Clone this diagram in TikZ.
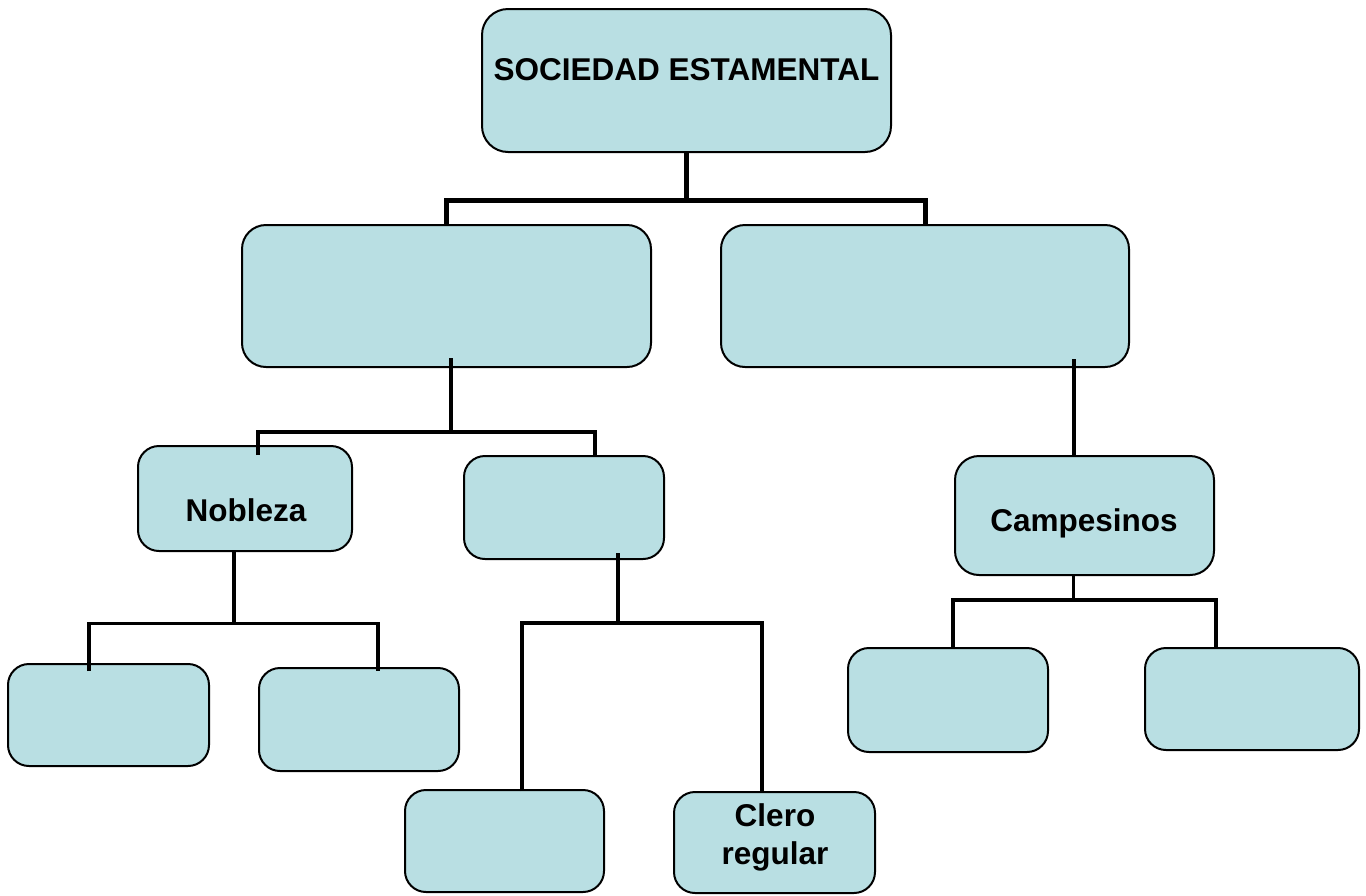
\documentclass[tikz,border=0pt]{standalone}
\usepackage{fontspec}
\setmainfont{Liberation Sans}
\usetikzlibrary{calc}
\definecolor{boxfill}{RGB}{185,223,227}
\begin{document}
\begin{tikzpicture}[x=1pt,y=-1pt,
  box/.style={draw=black, fill=boxfill, line width=2pt, rectangle, inner sep=0pt, rounded corners=#1},
  box/.default=21pt,
  lbl/.style={font=\fontsize{31.5}{38}\selectfont\bfseries, inner sep=0pt, align=center},
  thickc/.style={line width=5pt, line cap=butt, line join=miter},
  thinc/.style={line width=3.4pt, line cap=butt, line join=miter}]
\useasboundingbox (0,0) rectangle (1366,895);
% boxes
\node[box=26pt, minimum width=409pt, minimum height=143pt] (soc) at (686.5,80.5) {};
\node[box=24pt, minimum width=409pt, minimum height=142pt] (L1) at (446.5,296) {};
\node[box=24pt, minimum width=408pt, minimum height=142pt] (R1) at (925,296) {};
\node[box, minimum width=214pt, minimum height=105pt] (nob) at (245,498.5) {};
\node[box, minimum width=200pt, minimum height=103pt] (cle) at (564,507.5) {};
\node[box=24pt, minimum width=259pt, minimum height=119pt] (cam) at (1084.5,515.5) {};
\node[box, minimum width=201pt, minimum height=102pt] (n1) at (108.5,715) {};
\node[box, minimum width=200pt, minimum height=103pt] (n2) at (359,719.5) {};
\node[box, minimum width=199pt, minimum height=102pt] (c1) at (504.5,841) {};
\node[box, minimum width=201pt, minimum height=101pt] (c2) at (774.5,842.5) {};
\node[box, minimum width=200pt, minimum height=104pt] (p1) at (948,700) {};
\node[box, minimum width=214pt, minimum height=102pt] (p2) at (1252,699) {};
% labels
\node[lbl, anchor=base] (tsoc) at (686.5,80) {SOCIEDAD ESTAMENTAL};
\node[lbl, anchor=base] (tnob) at (246,521) {Nobleza};
\node[lbl, anchor=base] (tcam) at (1084,531) {Campesinos};
\node[lbl, anchor=center] (tcle) at (775,837) {Clero\\regular};
% connectors: top level
\coordinate (j0) at (687,200.5);
\draw[thickc] (soc.south) -- (soc.south |- j0);
\draw[thickc] (L1.north) |- (R1.north |- j0) -- (R1.north);
% L1 children
\coordinate (j1) at (451,432);
\draw[thinc] ($(L1.south)+(4.5,-10)$) -- (j1);
\draw[thinc] ($(nob.north)+(13,10)$) |- ($(cle.north)+(31,-23)$) -- ($(cle.north)+(31,0)$);
% Nobleza children
\coordinate (j2) at (234,623.5);
\draw[thinc] (nob.south -| j2) -- (j2);
\draw[thinc] ($(n1.north)+(-19.5,8)$) |- ($(n2.north)+(19,-43.5)$) -- ($(n2.north)+(19,4)$);
% Clero children
\coordinate (j3) at (618,623);
\draw[thinc] ($(cle.south)+(54,-7)$) -- (j3);
\draw[thinc] ($(c1.north)+(17.5,2)$) |- ($(c2.north)+(-12.5,-168)$) -- (c2.north -| 762,0);
% R1 to Campesinos
\draw[thinc] ($(R1.south)+(149,-9)$) -- ($(cam.north)+(-10.5,0)$);
% Campesinos children
\coordinate (j4) at (1073.5,600);
\draw[thinc] ($(cam.south)+(-11,0)$) -- (j4);
\draw[thinc] ($(p1.north)+(5,0)$) |- ($(p2.north)+(-36,-47)$) -- ($(p2.north)+(-36,0)$);
\end{tikzpicture}
\end{document}
